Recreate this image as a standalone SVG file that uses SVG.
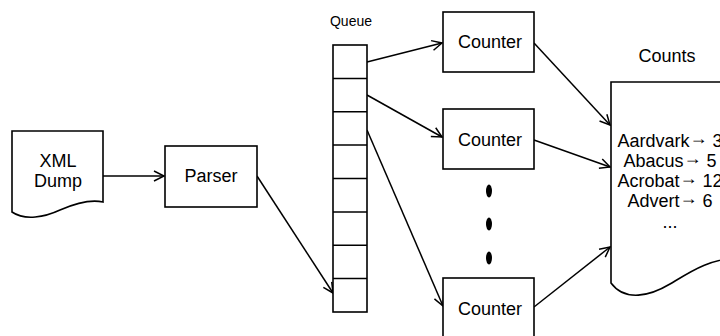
<svg xmlns="http://www.w3.org/2000/svg" width="720" height="336" viewBox="0 0 720 336">
  <defs>
    <style>
      .shape { fill: #ffffff; stroke: #000000; stroke-width: 1.6; }
      .conn { fill: none; stroke: #000000; stroke-width: 1.5; }
      .lbl { font-family: "Liberation Sans", Arial, Helvetica, sans-serif; font-size: 18px; fill: #000000; text-anchor: middle; }
      .small { font-size: 14px; }
    </style>
    <marker id="arr" markerUnits="userSpaceOnUse" markerWidth="14" markerHeight="14" refX="11" refY="6" orient="auto">
      <path d="M1,1 L11,6 L1,11" fill="none" stroke="#000000" stroke-width="1.5"/>
    </marker>
  </defs>
  <rect width="720" height="336" fill="#ffffff"/>

  <g id="connectors">
    <line class="conn" x1="103" y1="176" x2="164" y2="176" marker-end="url(#arr)"/>
    <line class="conn" x1="257" y1="176" x2="333" y2="293" marker-end="url(#arr)"/>
    <line class="conn" x1="367" y1="62" x2="442" y2="43" marker-end="url(#arr)"/>
    <line class="conn" x1="367" y1="95" x2="442" y2="137" marker-end="url(#arr)"/>
    <line class="conn" x1="367" y1="130" x2="443" y2="306" marker-end="url(#arr)"/>
    <line class="conn" x1="534" y1="43" x2="610" y2="125" marker-end="url(#arr)"/>
    <line class="conn" x1="534" y1="140" x2="610" y2="167" marker-end="url(#arr)"/>
    <line class="conn" x1="534" y1="307" x2="610" y2="247" marker-end="url(#arr)"/>
  </g>

  <g id="xml-dump">
    <path class="shape" d="M12,131 H103 V202 C90,199 76,203 60,210 C45,217 25,221 12,212 Z"/>
    <text class="lbl" x="58" y="167">XML</text>
    <text class="lbl" x="58" y="187">Dump</text>
  </g>

  <g id="parser">
    <rect class="shape" x="165" y="146" width="92" height="61"/>
    <text class="lbl" x="211" y="182">Parser</text>
  </g>

  <g id="queue">
    <text class="lbl small" x="351" y="26">Queue</text>
    <rect class="shape" x="333" y="45" width="34" height="267"/>
    <line class="conn" x1="333" y1="78.4" x2="367" y2="78.4"/>
    <line class="conn" x1="333" y1="111.8" x2="367" y2="111.8"/>
    <line class="conn" x1="333" y1="145.1" x2="367" y2="145.1"/>
    <line class="conn" x1="333" y1="178.5" x2="367" y2="178.5"/>
    <line class="conn" x1="333" y1="211.9" x2="367" y2="211.9"/>
    <line class="conn" x1="333" y1="245.3" x2="367" y2="245.3"/>
    <line class="conn" x1="333" y1="278.6" x2="367" y2="278.6"/>
  </g>

  <g id="counter1">
    <rect class="shape" x="443" y="12" width="91" height="60"/>
    <text class="lbl" x="490" y="48">Counter</text>
  </g>

  <g id="counter2">
    <rect class="shape" x="443" y="109" width="91" height="60"/>
    <text class="lbl" x="490" y="146">Counter</text>
  </g>

  <g id="ellipsis">
    <ellipse cx="489" cy="191" rx="3" ry="6.5" fill="#000000"/>
    <ellipse cx="489" cy="224" rx="3" ry="6.5" fill="#000000"/>
    <ellipse cx="489" cy="258" rx="3" ry="6.5" fill="#000000"/>
  </g>

  <g id="counter3">
    <rect class="shape" x="443" y="278" width="91" height="60"/>
    <text class="lbl" x="490" y="315">Counter</text>
  </g>

  <g id="counts">
    <text class="lbl" x="667" y="62">Counts</text>
    <path class="shape" d="M611,82 H740 V258 C710,258 690,272 670,284 C650,296 625,302 611,283 Z"/>
    <text class="lbl" x="670" y="147">Aardvark<tspan dy="-3">→</tspan><tspan dy="3"> 3</tspan></text>
    <text class="lbl" x="670" y="167">Abacus<tspan dy="-3">→</tspan><tspan dy="3"> 5</tspan></text>
    <text class="lbl" x="670" y="187">Acrobat<tspan dy="-3">→</tspan><tspan dy="3"> 12</tspan></text>
    <text class="lbl" x="670" y="207">Advert<tspan dy="-3">→</tspan><tspan dy="3"> 6</tspan></text>
    <text class="lbl" x="670" y="228">...</text>
  </g>
</svg>
